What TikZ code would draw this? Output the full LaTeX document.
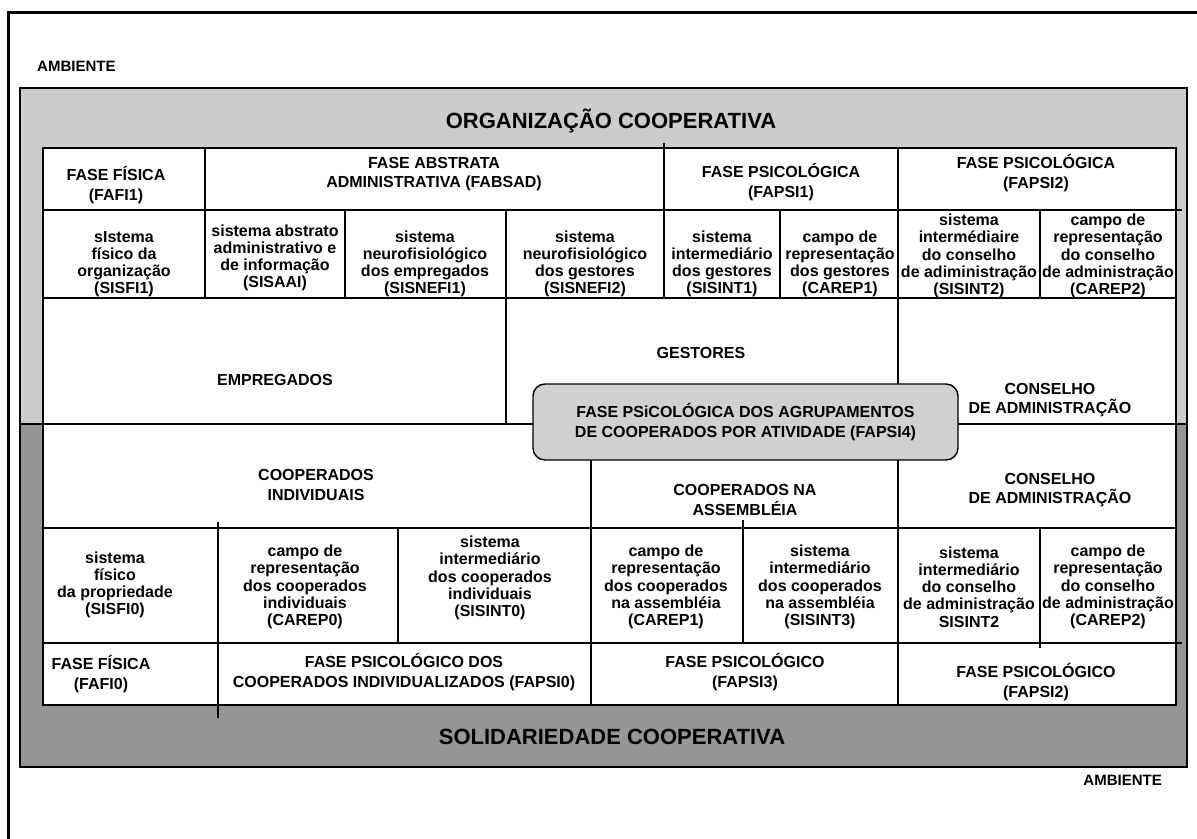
\documentclass[tikz,border=0pt]{standalone}
\usepackage{fontspec}
\setmainfont{Liberation Sans}
\definecolor{lightgr}{HTML}{CCCCCC}
\definecolor{darkgr}{HTML}{969696}
\definecolor{boxgr}{HTML}{D0D0D0}
\begin{document}
\begin{tikzpicture}[x=1bp,y=-1bp,
  cell/.style={align=center,inner sep=0pt,font=\bfseries\fontsize{16bp}{17.2bp}\selectfont},
  head/.style={align=center,inner sep=0pt,font=\bfseries\fontsize{16bp}{19.5bp}\selectfont},
  big/.style={inner sep=0pt,font=\bfseries\fontsize{22bp}{24bp}\selectfont},
  amb/.style={inner sep=0pt,font=\bfseries\fontsize{15bp}{16bp}\selectfont},
  grid/.style={line width=1.4bp},
  frame/.style={line width=3bp},
  roundbox/.style={draw,line width=1.4bp,fill=boxgr,rounded corners=12bp,
    minimum width=425bp,minimum height=76bp,align=center,inner sep=0pt,
    font=\bfseries\fontsize{16bp}{20bp}\selectfont}]
\useasboundingbox (0,0) rectangle (1197,839);
% outer frame
\draw[frame] (8,839) -- (8,12) -- (1197,12);
\node[amb,anchor=west] (amb1) at (37,66) {AMBIENTE};
\node[amb,anchor=east] (amb2) at (1162,780) {AMBIENTE};
% gray areas
\fill[lightgr] (20,88) rectangle (1187,424);
\fill[darkgr] (20,424) rectangle (1187,767);
\draw[grid] (20,88) rectangle (1187,767);
\node[big] (org) at (611,121) {ORGANIZAÇÃO COOPERATIVA};
\node[big] (sol) at (612,737) {SOLIDARIEDADE COOPERATIVA};
% table
\fill[white] (43,148) rectangle (1176,705);
\draw[grid] (43,148) rectangle (1176,705);
\draw[grid] (43,210) -- (1182,210);
\draw[grid] (43,298) -- (1176,298);
\draw[line width=2.2bp] (20,424) -- (1187,424);
\draw[grid] (43,528) -- (1176,528);
\draw[grid] (43,643) -- (1182,643);
\draw[grid] (205,148) -- (205,298);
\draw[grid] (664,143) -- (664,298);
\draw[grid] (898,148) -- (898,705);
\draw[grid] (345,210) -- (345,298);
\draw[grid] (506,210) -- (506,424);
\draw[grid] (780,210) -- (780,298);
\draw[grid] (1040,210) -- (1040,298);
\draw[grid] (591,424) -- (591,705);
\draw[grid] (218,522) -- (218,718);
\draw[grid] (398,528) -- (398,643);
\draw[grid] (743,520) -- (743,643);
\draw[grid] (1040,528) -- (1040,648);
% row 1
\node[head] (fafi1) at (116,185) {FASE FÍSICA\\(FAFI1)};
\node[head] (fabsad) at (434,174) {FASE ABSTRATA\\ADMINISTRATIVA (FABSAD)};
\node[head] (fapsi1) at (781,182) {FASE PSICOLÓGICA\\(FAPSI1)};
\node[head] (fapsi2a) at (1036,173) {FASE PSICOLÓGICA\\(FAPSI2)};
% row 2
\node[cell] (sisfi1) at (124,264) {sIstema\\físico da\\organização\\(SISFI1)};
\node[cell] (sisaai) at (275,258) {sistema abstrato\\administrativo e\\de informação\\(SISAAI)};
\node[cell] (sisnefi1) at (425,264) {sistema\\neurofisiológico\\dos empregados\\(SISNEFI1)};
\node[cell] (sisnefi2) at (585,264) {sistema\\neurofisiológico\\dos gestores\\(SISNEFI2)};
\node[cell] (sisint1) at (722,264) {sistema\\intermediário\\dos gestores\\(SISINT1)};
\node[cell] (carep1a) at (840,264) {campo de\\representação\\dos gestores\\(CAREP1)};
\node[cell] (sisint2a) at (969,256) {sistema\\intermédiaire\\do conselho\\de adiministração\\(SISINT2)};
\node[cell] (carep2a) at (1108,256) {campo de\\representação\\do conselho\\de administração\\(CAREP2)};
% row 3
\node[head] (empr) at (275,380) {EMPREGADOS};
\node[head] (gest) at (701,353) {GESTORES};
\node[head] (cons1) at (1050,400) {CONSELHO\\DE ADMINISTRAÇÃO};
% row 4
\node[head] (coopind) at (316,485) {COOPERADOS\\INDIVIDUAIS};
\node[head] (coopass) at (745,500) {COOPERADOS NA\\ASSEMBLÉIA};
\node[head] (cons2) at (1050,490) {CONSELHO\\DE ADMINISTRAÇÃO};
% row 5
\node[cell] (sisfi0) at (115,585) {sistema\\físico\\da propriedade\\(SISFI0)};
\node[cell] (carep0) at (305,587) {campo de\\representação\\dos cooperados\\individuais\\(CAREP0)};
\node[cell] (sisint0) at (490,578) {sistema\\intermediário\\dos cooperados\\individuais\\(SISINT0)};
\node[cell] (carep1b) at (666,587) {campo de\\representação\\dos cooperados\\na assembléia\\(CAREP1)};
\node[cell] (sisint3) at (820,587) {sistema\\intermediário\\dos cooperados\\na assembléia\\(SISINT3)};
\node[cell] (sisint2b) at (969,587) {sistema\\intermediário\\do conselho\\de administração\\SISINT2};
\node[cell] (carep2b) at (1108,587) {campo de\\representação\\do conselho\\de administração\\(CAREP2)};
% row 6
\node[head] (fafi0) at (101,674) {FASE FÍSICA\\(FAFI0)};
\node[head] (fapsi0) at (404,672) {FASE PSICOLÓGICO DOS\\COOPERADOS INDIVIDUALIZADOS (FAPSI0)};
\node[head] (fapsi3) at (745,672) {FASE PSICOLÓGICO\\(FAPSI3)};
\node[head] (fapsi2b) at (1036,682) {FASE PSICOLÓGICO\\(FAPSI2)};
% central rounded box
\node[roundbox] (fapsi4) at (745.5,422) {FASE PSiCOLÓGICA DOS AGRUPAMENTOS\\DE COOPERADOS POR ATIVIDADE (FAPSI4)};
\end{tikzpicture}
\end{document}
